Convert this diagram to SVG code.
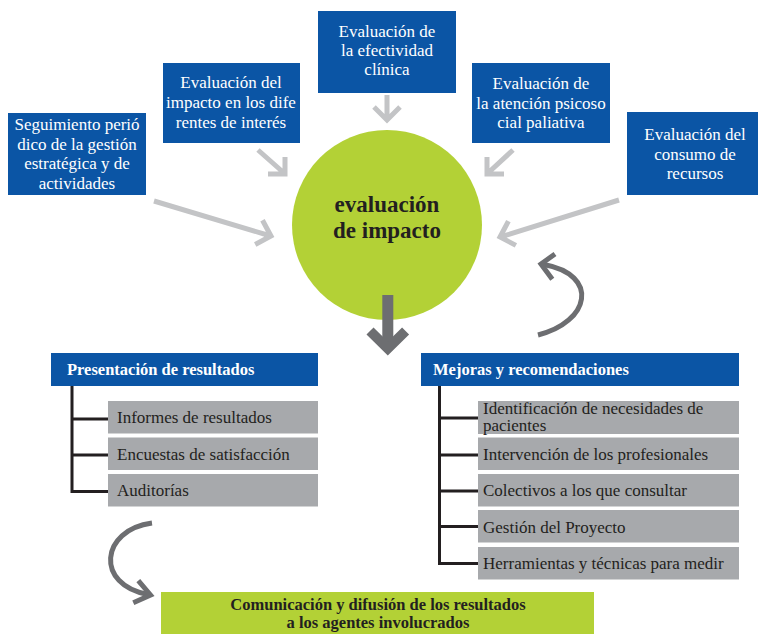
<svg xmlns="http://www.w3.org/2000/svg" width="758" height="634" viewBox="0 0 758 634">
<style>
.box{fill:#0b55a5}
.wt{font-family:"Liberation Serif",serif;font-size:17px;fill:#fff;text-anchor:middle}
.la{fill:none;stroke:#c3c4c6;stroke-width:5;stroke-linejoin:miter}
.da{fill:none;stroke:#6d6e71;stroke-width:5;stroke-linejoin:miter}
.item{fill:#a7a9ac}
.it{font-family:"Liberation Serif",serif;font-size:17px;fill:#231f20}
.hd{font-family:"Liberation Serif",serif;font-size:16.5px;font-weight:bold;fill:#fff}
.tree{stroke:#231f20;stroke-width:3;fill:none}
.green{fill:#b3d136}
.bt{font-family:"Liberation Serif",serif;font-weight:bold;fill:#231f20;text-anchor:middle}
</style>
<rect width="758" height="634" fill="#fff"/>

<g id="center">
  <circle class="green" cx="387" cy="225" r="95"/>
  <text class="bt" font-size="23" x="387" y="212">evaluación</text>
  <text class="bt" font-size="23" x="387" y="238">de impacto</text>
</g>

<g id="box-seguimiento">
  <rect class="box" x="8" y="113" width="138" height="82"/>
  <text class="wt" x="77" y="130">Seguimiento perió</text>
  <text class="wt" x="77" y="149.5">dico de la gestión</text>
  <text class="wt" x="77" y="169">estratégica y de</text>
  <text class="wt" x="77" y="188.5">actividades</text>
</g>
<g id="box-impacto">
  <rect class="box" x="163" y="63" width="137" height="80"/>
  <text class="wt" x="231" y="88">Evaluación del</text>
  <text class="wt" x="231" y="108">impacto en los dife</text>
  <text class="wt" x="231" y="127.5">rentes de interés</text>
</g>
<g id="box-efectividad">
  <rect class="box" x="318" y="11" width="138" height="82"/>
  <text class="wt" x="387" y="37">Evaluación de</text>
  <text class="wt" x="387" y="56">la efectividad</text>
  <text class="wt" x="387" y="75">clínica</text>
</g>
<g id="box-psicosocial">
  <rect class="box" x="472" y="63" width="138" height="80"/>
  <text class="wt" x="541" y="89">Evaluación de</text>
  <text class="wt" x="541" y="109">la atención psicoso</text>
  <text class="wt" x="541" y="128">cial paliativa</text>
</g>
<g id="box-consumo">
  <rect class="box" x="627" y="112" width="131" height="83"/>
  <text class="wt" x="695" y="140">Evaluación del</text>
  <text class="wt" x="695" y="159.5">consumo de</text>
  <text class="wt" x="695" y="179">recursos</text>
</g>

<g id="connectors">
  <path class="la" d="M154,201 L269,235.5 M262.5,220.2 L271,236 L255.2,244.5"/>
  <path class="la" d="M258,150 L284,173 M285,157 L285,174 L268,174"/>
  <path class="la" d="M387,95 L387,119 M374,107 L387,120 L400,107"/>
  <path class="la" d="M513,150 L488,173 M487,157 L487,174 L504,174"/>
  <path class="la" d="M619,200 L502,236.5 M508.4,221.1 L500,237 L515.9,245.4"/>
  <path fill="none" stroke="#6d6e71" stroke-width="11" d="M387.8,295 V344"/>
  <path fill="none" stroke="#6d6e71" stroke-width="10" stroke-linejoin="miter" d="M370,331 L387.8,348.5 L405.6,331"/>
  <path class="da" d="M538,335 C590,322 600,275 544,264.5"/>
  <path class="da" d="M555,254 L541,264 L552.3,279.3"/>
  <path class="da" d="M152,523 C100,530 95,585 148,594.5"/>
  <path class="da" d="M138.3,580.7 L150.5,595 L133.3,602.7"/>
</g>

<g id="presentacion">
  <rect class="box" x="51" y="353" width="267" height="33"/>
  <text class="hd" x="67" y="375">Presentación de resultados</text>
  <path class="tree" d="M72,386 V491.5 H108 M72,419 H108 M72,455 H108"/>
</g>
<g id="item-informes">
  <rect class="item" x="108" y="401" width="210" height="32.5"/>
  <text class="it" x="117" y="423">Informes de resultados</text>
</g>
<g id="item-encuestas">
  <rect class="item" x="108" y="437.5" width="210" height="32.5"/>
  <text class="it" x="117" y="460">Encuestas de satisfacción</text>
</g>
<g id="item-auditorias">
  <rect class="item" x="108" y="474" width="210" height="32.5"/>
  <text class="it" x="117" y="495.5">Auditorías</text>
</g>

<g id="mejoras">
  <rect class="box" x="421" y="353" width="318" height="33"/>
  <text class="hd" x="433" y="375">Mejoras y recomendaciones</text>
  <path class="tree" d="M439.5,386 V563.5 H478 M439.5,418 H478 M439.5,455 H478 M439.5,491 H478 M439.5,526.5 H478"/>
</g>
<g id="item-identificacion">
  <rect class="item" x="478" y="401" width="261" height="33"/>
  <text class="it" x="483" y="414">Identificación de necesidades de</text>
  <text class="it" x="483" y="431">pacientes</text>
</g>
<g id="item-intervencion">
  <rect class="item" x="478" y="437.5" width="261" height="32.5"/>
  <text class="it" x="483" y="460">Intervención de los profesionales</text>
</g>
<g id="item-colectivos">
  <rect class="item" x="478" y="474" width="261" height="32.5"/>
  <text class="it" x="483" y="495.5">Colectivos a los que consultar</text>
</g>
<g id="item-gestion">
  <rect class="item" x="478" y="510" width="261" height="32.5"/>
  <text class="it" x="483" y="532.5">Gestión del Proyecto</text>
</g>
<g id="item-herramientas">
  <rect class="item" x="478" y="547" width="261" height="32.5"/>
  <text class="it" x="483" y="569">Herramientas y técnicas para medir</text>
</g>

<g id="comunicacion">
  <rect class="green" x="161" y="592" width="433" height="42"/>
  <text class="bt" font-size="16.5" x="378" y="609.5">Comunicación y difusión de los resultados</text>
  <text class="bt" font-size="16.5" x="378" y="627.5">a los agentes involucrados</text>
</g>
</svg>
